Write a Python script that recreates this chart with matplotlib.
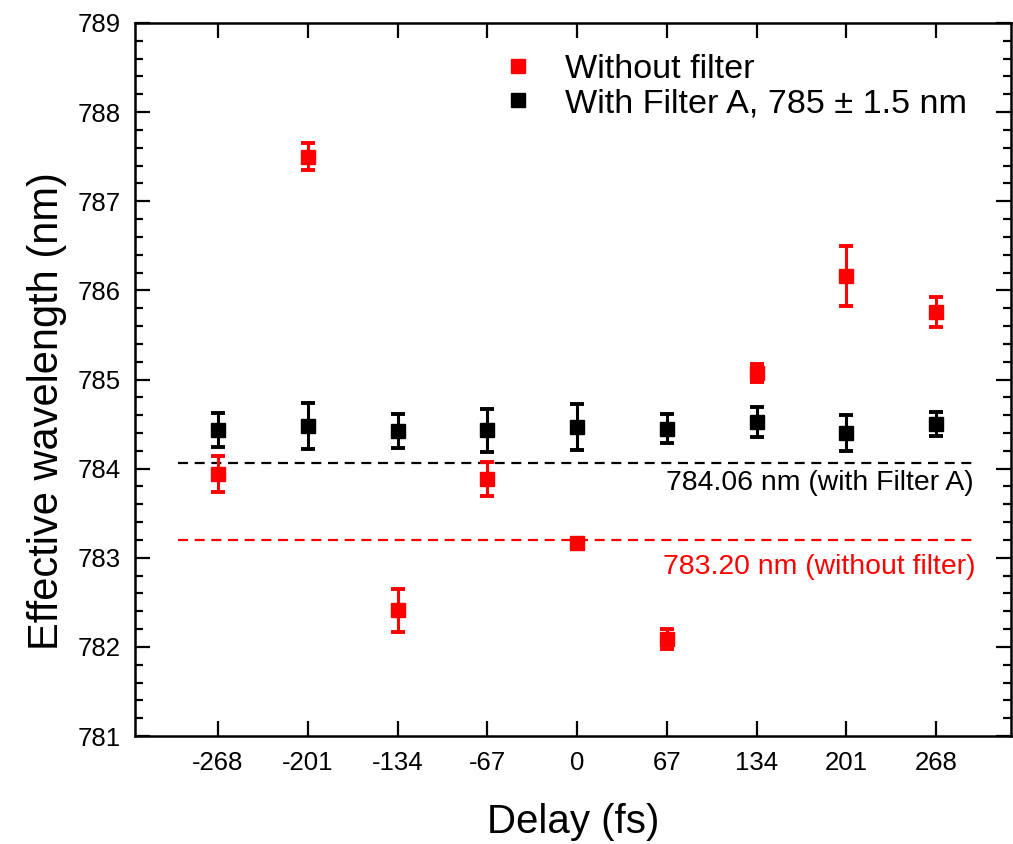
import matplotlib
matplotlib.use("Agg")
import matplotlib.pyplot as plt
from matplotlib.lines import Line2D
from matplotlib.ticker import MultipleLocator, FixedLocator

plt.rcParams['font.family'] = ['Liberation Sans', 'DejaVu Sans']

delay = [-268, -201, -134, -67, 0, 67, 134, 201, 268]
tick_labels = ['-268', '-201', '-134', '-67', '0', '67', '134', '201', '268']

no_filter = [783.94, 787.50, 782.41, 783.88, 783.16, 782.09, 785.07, 786.16, 785.76]
no_filter_err = [0.20, 0.15, 0.24, 0.19, 0.05, 0.11, 0.10, 0.34, 0.17]

filter_a = [784.43, 784.48, 784.42, 784.43, 784.47, 784.45, 784.52, 784.40, 784.50]
filter_a_err = [0.19, 0.26, 0.19, 0.24, 0.26, 0.16, 0.17, 0.20, 0.13]

mean_filter_a = 784.06
mean_no_filter = 783.20
line_span = [-298, 296]

RED = '#ff0000'
BLACK = '#000000'

fig = plt.figure(figsize=(10.13, 8.44), dpi=100)
ax = fig.add_axes([135/1013, 1 - 736/844, (1011-135)/1013, (736-23)/844])

# mean dashed lines
ax.plot(line_span, [mean_filter_a]*2, color=BLACK, ls=(0, (4.5, 3)), lw=1.6)
ax.plot(line_span, [mean_no_filter]*2, color=RED, ls=(0, (4.5, 3)), lw=1.6)

ax.errorbar(delay, no_filter, yerr=no_filter_err, fmt='s', color=RED, ms=10,
            elinewidth=2.2, capsize=5, capthick=2.8, zorder=3)
ax.errorbar(delay, filter_a, yerr=filter_a_err, fmt='s', color=BLACK, ms=10,
            elinewidth=2.2, capsize=5, capthick=2.8, zorder=3)

ax.text(296, 783.84, '784.06 nm (with Filter A)', color=BLACK,
        fontsize=20.4, ha='right', va='center')
ax.text(297.5, 782.90, '783.20 nm (without filter)', color=RED,
        fontsize=20.4, ha='right', va='center')

ax.set_xlim(-330, 324)
ax.set_ylim(781, 789)
ax.xaxis.set_major_locator(FixedLocator(delay))
ax.set_xticklabels(tick_labels)
ax.yaxis.set_major_locator(MultipleLocator(1))
ax.yaxis.set_minor_locator(MultipleLocator(0.2))

ax.tick_params(axis='both', which='major', direction='in', length=11, width=1.6,
               labelsize=18.5, top=True, right=True)
ax.tick_params(axis='x', which='major', pad=11)
ax.tick_params(axis='y', which='major', pad=10)
ax.tick_params(axis='y', which='minor', direction='in', length=6, width=1.6,
               right=True, left=True)
for s in ax.spines.values():
    s.set_linewidth(1.8)

ax.set_xlabel('Delay (fs)', fontsize=29)
ax.xaxis.set_label_coords(0.5, (736 - 822) / 713)
ax.xaxis.label.set_verticalalignment('center')
ax.set_ylabel('Effective wavelength (nm)', fontsize=30)
ax.yaxis.set_label_coords((47 - 135) / 876, (736 - 411) / 713)
ax.yaxis.label.set_verticalalignment('center')

handles = [Line2D([], [], marker='s', ls='none', color=RED, ms=10),
           Line2D([], [], marker='s', ls='none', color=BLACK, ms=10)]
ax.legend(handles, ['Without filter', 'With Filter A, 785 ± 1.5 nm'],
          loc='upper left', bbox_to_anchor=(0.402, 0.976), frameon=False,
          fontsize=24.6, handlelength=0.98, handletextpad=0.9, labelspacing=0.1,
          borderaxespad=0)

fig.savefig('out.png', dpi=100)
